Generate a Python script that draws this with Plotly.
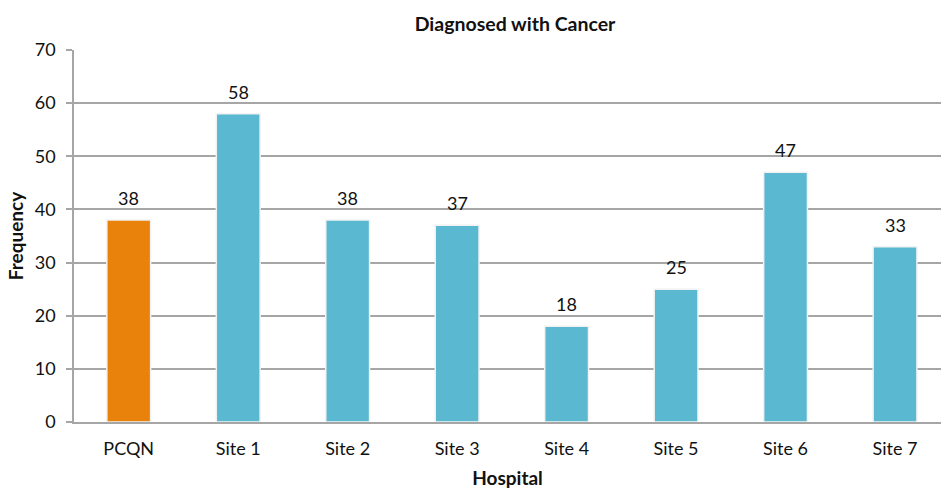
import plotly.graph_objects as go

categories = ["PCQN", "Site 1", "Site 2", "Site 3", "Site 4", "Site 5", "Site 6", "Site 7"]
values = [38, 58, 38, 37, 18, 25, 47, 33]
colors = ["#E8820A"] + ["#5BB8D1"] * 7
yticks = [0, 10, 20, 30, 40, 50, 60, 70]

FONT = "Lato, 'Open Sans', sans-serif"
TXT = "#111"

fig = go.Figure(go.Bar(
    x=categories, y=values,
    marker=dict(color=colors, line=dict(color="#f2f2f2", width=1.5)),
    width=0.4,
    cliponaxis=False,
))

for c, v in zip(categories, values):
    fig.add_annotation(x=c, y=v, text=str(v), showarrow=False, yanchor="middle",
                       yshift=22, font=dict(family=FONT, size=18, color=TXT))

fig.update_layout(
    width=941, height=489,
    margin=dict(l=74, r=0, t=50, b=67),
    paper_bgcolor="white", plot_bgcolor="white",
    title=dict(text="<b>Diagnosed with Cancer</b>", x=515/941, xanchor="center",
               y=1 - 24/489, yanchor="middle",
               font=dict(family=FONT, size=19.5, color=TXT)),
    showlegend=False,
)
fig.update_xaxes(
    range=[-0.5, 7.42], showline=True, linecolor="#a6a6a6", linewidth=1.5,
    tickfont=dict(family=FONT, size=18, color=TXT), ticks="", ticklabelstandoff=10,
    title=dict(text="<b>Hospital</b>", font=dict(family=FONT, size=19, color=TXT), standoff=16),
    fixedrange=True,
)
fig.update_yaxes(
    range=[0, 70], tickvals=yticks, showline=True, linecolor="#a6a6a6", linewidth=1.5,
    showgrid=True, gridcolor="#a6a6a6", gridwidth=1.5,
    ticks="outside", ticklen=6, tickcolor="#a6a6a6", tickwidth=1.5,
    tickfont=dict(family=FONT, size=18, color=TXT), ticklabelstandoff=7,
    title=dict(text="<b>Frequency</b>", font=dict(family=FONT, size=19, color=TXT), standoff=6),
    zeroline=False,
)

fig.write_html("out.html")
